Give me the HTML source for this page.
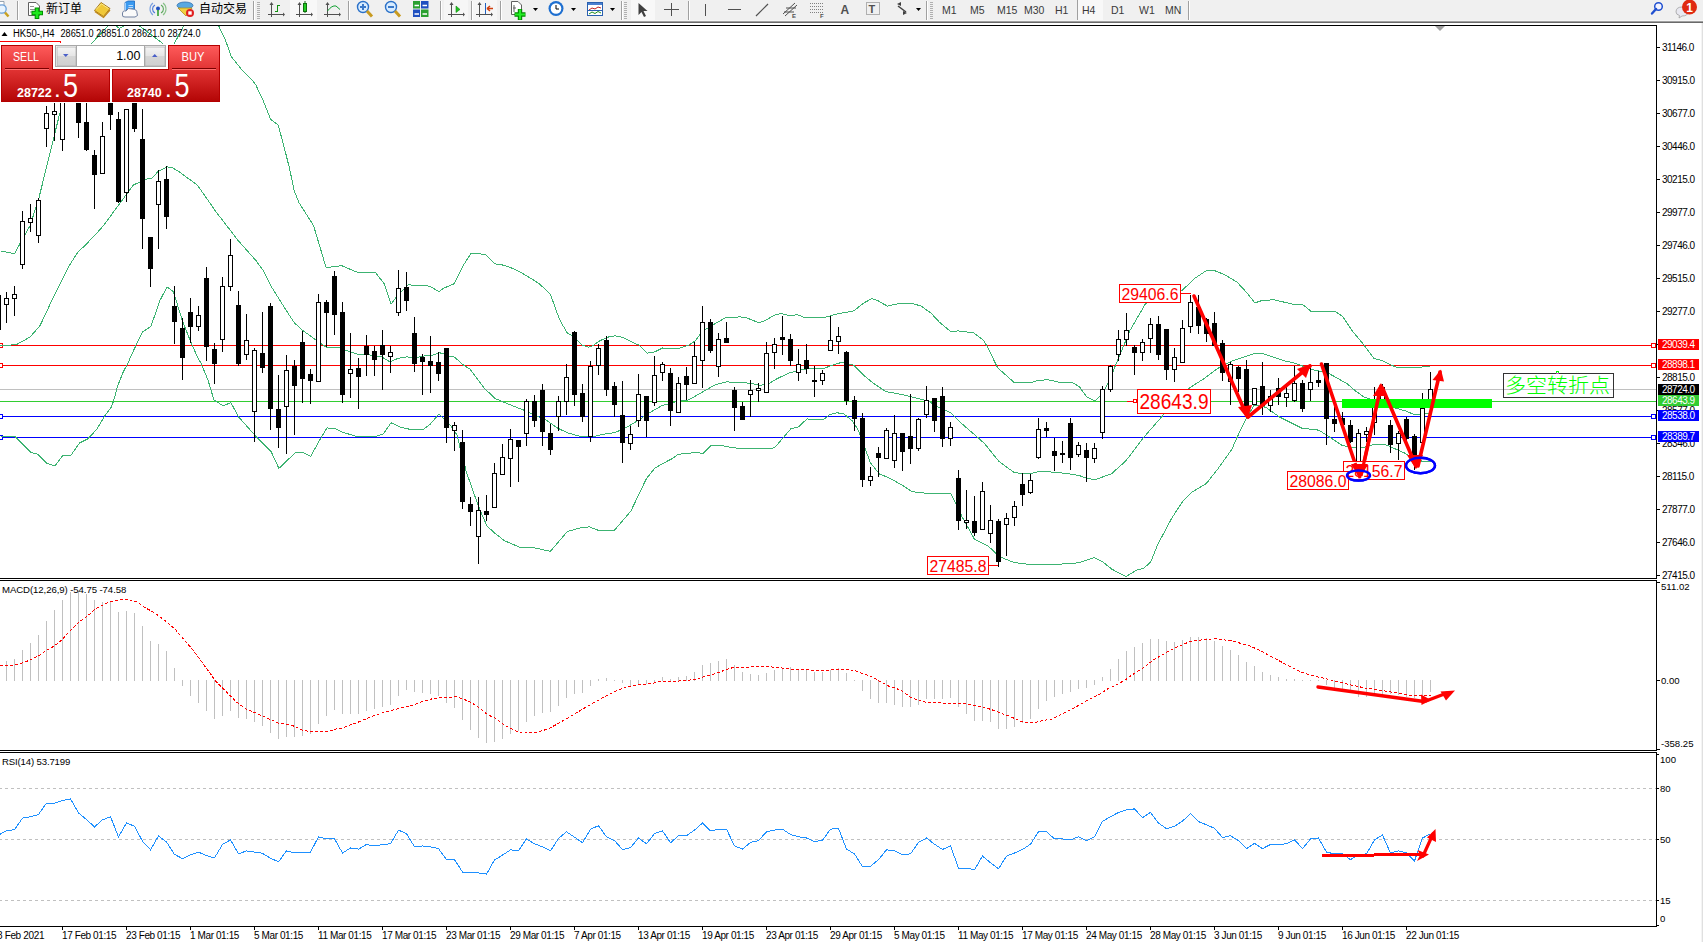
<!DOCTYPE html><html><head><meta charset="utf-8"><title>HK50 H4</title>
<style>html,body{margin:0;padding:0;background:#fff;overflow:hidden;width:1703px;height:942px}svg{display:block}text{font-family:"Liberation Sans", "Noto Sans CJK SC", sans-serif}</style></head><body>
<svg width="1703" height="942" viewBox="0 0 1703 942">
<rect x="0" y="0" width="1703" height="942" fill="#fff"/>
<defs><clipPath id="cm"><rect x="0" y="26" width="1656" height="552"/></clipPath><clipPath id="cmacd"><rect x="0" y="581" width="1656" height="169"/></clipPath><clipPath id="crsi"><rect x="0" y="753" width="1656" height="173"/></clipPath><linearGradient id="gpanel" x1="0" y1="45" x2="0" y2="102" gradientUnits="userSpaceOnUse"><stop offset="0" stop-color="#ff5c5c"/><stop offset="0.42" stop-color="#e23434"/><stop offset="1" stop-color="#b20404"/></linearGradient><linearGradient id="gsell" x1="0" y1="0" x2="0" y2="1"><stop offset="0" stop-color="#ff5a5a"/><stop offset="1" stop-color="#dc2424"/></linearGradient><linearGradient id="gprice" x1="0" y1="0" x2="0" y2="1"><stop offset="0" stop-color="#e23030"/><stop offset="1" stop-color="#b00202"/></linearGradient><linearGradient id="gbtn" x1="0" y1="0" x2="0" y2="1"><stop offset="0" stop-color="#f4f4f4"/><stop offset="0.45" stop-color="#e6e6e6"/><stop offset="0.5" stop-color="#d6d6d6"/><stop offset="1" stop-color="#cfcfcf"/></linearGradient></defs>
<g clip-path="url(#cm)">
<line x1="0" y1="345.5" x2="1656" y2="345.5" stroke="#ff0000" stroke-width="1" shape-rendering="crispEdges"/>
<line x1="0" y1="365.5" x2="1656" y2="365.5" stroke="#ff0000" stroke-width="1" shape-rendering="crispEdges"/>
<line x1="0" y1="389.5" x2="1656" y2="389.5" stroke="#c0c0c0" stroke-width="1" shape-rendering="crispEdges"/>
<line x1="0" y1="401.5" x2="1656" y2="401.5" stroke="#32cd32" stroke-width="1" shape-rendering="crispEdges"/>
<line x1="0" y1="416.5" x2="1656" y2="416.5" stroke="#0000ff" stroke-width="1" shape-rendering="crispEdges"/>
<line x1="0" y1="437.5" x2="1656" y2="437.5" stroke="#0000ff" stroke-width="1" shape-rendering="crispEdges"/>
<rect x="-1.5" y="343.5" width="4" height="4" fill="#fff" stroke="#ff0000" shape-rendering="crispEdges"/>
<rect x="1651.5" y="343.5" width="4" height="4" fill="#fff" stroke="#ff0000" shape-rendering="crispEdges"/>
<rect x="-1.5" y="363.5" width="4" height="4" fill="#fff" stroke="#ff0000" shape-rendering="crispEdges"/>
<rect x="1651.5" y="363.5" width="4" height="4" fill="#fff" stroke="#ff0000" shape-rendering="crispEdges"/>
<rect x="-1.5" y="414.5" width="4" height="4" fill="#fff" stroke="#0000ff" shape-rendering="crispEdges"/>
<rect x="1651.5" y="414.5" width="4" height="4" fill="#fff" stroke="#0000ff" shape-rendering="crispEdges"/>
<rect x="-1.5" y="435.5" width="4" height="4" fill="#fff" stroke="#0000ff" shape-rendering="crispEdges"/>
<rect x="1651.5" y="435.5" width="4" height="4" fill="#fff" stroke="#0000ff" shape-rendering="crispEdges"/>
<polyline points="0.5,250.9 14.6,253.7 21.0,241.7 30.1,225.5 38.6,199.3 59.8,113.2 75.5,75.5 91.6,43.4 107.4,26.6 112.5,20.5 116.8,26.6 119.4,28.4 122.7,26.6 130.5,20.5 140.3,26.6 162.6,43.4 168.5,50.5 174.4,43.4 183.2,26.6 190.5,18.5 210.5,18.5 219.0,26.5 225.6,40.5 231.2,56.5 242.5,70.6 252.8,80.9 255.7,84.7 263.2,100.7 270.7,119.5 278.2,125.1 283.8,145.8 289.5,168.3 294.2,190.9 298.9,202.5 313.5,225.5 326.2,267.9 330.4,267.1 341.7,265.7 358.6,272.8 375.6,272.8 384.0,283.4 391.1,303.9 398.2,294.7 408.0,284.8 420.5,285.7 426.9,285.7 431.1,287.1 438.9,291.6 443.1,288.5 454.4,283.6 464.3,263.8 470.6,253.9 480.5,253.9 486.1,254.9 494.6,263.8 503.8,265.2 510.9,267.7 519.3,271.6 527.8,276.5 539.1,283.6 550.4,294.1 557.4,313.9 560.3,321.0 567.3,333.0 573.0,335.8 582.2,345.3 588.5,347.1 592.7,345.7 599.8,340.7 609.7,336.5 615.3,335.8 622.4,337.2 632.3,342.2 639.3,345.3 647.1,353.2 654.9,351.8 662.4,348.0 668.7,349.0 678.6,348.3 688.5,345.4 695.6,340.5 701.2,332.7 706.9,328.5 713.9,324.3 725.2,317.9 739.3,316.9 745.0,317.2 759.1,322.9 764.7,320.7 776.0,314.4 781.7,313.7 790.2,315.8 797.2,314.7 805.7,317.9 824.0,317.5 838.2,313.7 853.7,310.9 863.6,303.1 872.0,298.6 877.5,300.5 887.3,306.1 898.6,303.6 914.1,304.0 921.2,306.1 931.1,313.2 939.6,322.4 950.9,331.8 957.9,330.9 973.4,332.7 983.3,340.0 987.6,347.1 997.5,367.6 1014.4,382.7 1031.3,382.7 1038.4,380.3 1048.3,379.8 1061.0,382.7 1072.3,382.7 1079.3,386.6 1086.4,396.5 1094.9,401.0 1101.8,394.5 1108.9,381.8 1114.5,367.8 1130.0,330.4 1145.6,303.6 1181.6,290.9 1195.0,278.1 1206.3,270.7 1214.7,270.7 1224.6,274.6 1237.3,282.4 1245.8,291.6 1255.0,302.9 1261.3,300.7 1274.0,299.7 1283.9,302.1 1292.3,304.0 1299.3,304.0 1303.7,305.3 1310.8,311.1 1316.1,311.9 1322.2,311.5 1334.6,311.1 1342.5,316.3 1352.2,330.9 1363.6,344.5 1374.2,358.6 1382.1,360.4 1392.7,365.7 1398.0,367.9 1410.3,367.9 1426.2,366.7 1430.5,366.5" fill="none" stroke="#3cb371" stroke-width="1" shape-rendering="crispEdges"/>
<polyline points="0.5,345.5 16.0,344.8 30.1,337.0 40.0,325.7 49.9,304.6 59.8,284.8 69.7,265.0 78.2,251.6 83.8,246.7 96.5,233.5 103.5,225.5 113.5,212.0 133.2,185.2 140.3,181.7 147.3,178.9 150.9,178.9 158.6,171.1 167.1,166.9 172.7,168.0 178.4,171.1 184.0,175.3 197.4,185.2 208.7,201.2 215.1,210.6 226.6,225.5 237.9,240.3 255.6,260.1 263.3,270.7 271.1,286.2 285.2,308.8 294.4,322.9 302.2,330.0 317.7,341.3 326.9,347.6 339.6,348.0 348.7,351.2 358.6,354.7 369.9,355.0 381.2,356.5 389.7,361.8 398.2,358.3 406.6,356.9 416.5,357.5 426.4,355.5 431.8,355.6 438.9,352.7 443.1,353.5 450.1,356.6 454.4,357.0 462.9,364.7 469.9,369.0 484.0,388.0 495.3,398.6 512.3,405.7 525.0,410.6 533.5,414.9 544.7,419.1 557.5,428.0 567.3,432.8 581.5,436.7 592.7,436.7 604.0,434.2 615.3,432.5 628.0,426.6 639.3,419.8 649.0,413.1 661.7,405.7 674.4,402.1 688.5,399.9 702.6,392.0 715.3,384.7 726.6,381.9 739.3,382.4 750.6,383.3 759.1,385.3 767.6,384.3 776.0,379.3 788.7,373.0 797.2,370.9 807.1,368.7 824.0,368.3 838.2,363.1 843.8,362.7 853.7,365.2 863.6,375.1 872.0,382.2 885.9,391.6 901.4,394.4 915.6,397.9 928.3,401.0 939.6,407.8 950.9,412.7 959.3,421.5 977.7,437.4 984.7,443.8 998.9,461.4 1014.4,472.7 1029.9,473.9 1038.4,471.6 1051.1,472.0 1066.6,473.4 1079.3,475.6 1086.4,478.1 1094.7,479.9 1111.7,473.6 1125.8,460.9 1144.1,436.9 1163.9,414.3 1189.3,388.0 1203.5,379.0 1217.6,368.5 1231.7,361.0 1240.2,358.2 1254.3,353.7 1262.7,353.7 1274.0,357.2 1285.3,361.0 1295.2,363.3 1306.5,367.5 1312.3,369.7 1320.5,371.4 1330.0,374.1 1339.4,379.4 1347.6,384.1 1355.9,391.2 1364.1,397.1 1371.2,399.4 1397.1,408.6 1406.6,411.2 1414.8,415.0 1419.5,414.7 1426.6,413.6 1430.5,413.5" fill="none" stroke="#3cb371" stroke-width="1" shape-rendering="crispEdges"/>
<polyline points="0.5,436.9 15.3,436.9 30.9,452.4 37.9,454.3 47.1,463.5 54.9,466.0 62.6,455.7 71.1,455.0 79.6,443.0 88.0,438.7 96.5,429.6 105.0,415.5 111.3,407.0 113.5,401.3 117.7,385.8 123.3,371.7 127.6,363.9 131.0,356.0 134.5,348.5 142.4,332.1 150.9,326.5 160.0,300.3 167.1,286.9 173.5,291.9 182.6,321.5 191.1,342.7 198.2,358.5 201.0,363.2 208.0,380.1 213.9,399.9 223.1,405.8 230.9,402.7 238.6,416.9 254.9,435.2 271.1,451.5 278.9,468.4 295.1,452.9 303.6,452.9 310.6,456.4 320.5,438.7 326.9,427.9 336.0,428.9 343.1,432.4 357.2,436.6 375.6,436.6 383.3,433.8 391.1,422.8 401.0,427.4 412.3,429.8 422.9,429.8 430.4,424.0 438.9,413.9 451.6,426.9 457.2,435.3 460.0,447.5 462.9,453.7 465.7,470.1 474.1,494.1 479.8,509.6 486.9,525.9 495.3,533.6 504.5,540.7 519.3,547.0 530.6,547.0 550.4,551.3 567.3,531.5 580.0,528.0 589.2,526.8 597.7,530.1 614.6,530.1 630.9,511.0 639.3,493.5 646.4,478.6 654.9,468.1 663.1,463.3 671.6,459.0 678.6,454.1 689.9,453.7 691.3,452.7 698.4,452.7 702.6,453.8 711.1,445.6 722.4,445.6 732.3,447.7 747.8,448.9 769.0,448.9 774.6,447.7 783.1,437.9 790.9,428.7 798.6,426.8 807.1,418.8 811.3,419.5 823.3,419.8 829.7,414.6 836.7,412.7 843.8,413.9 852.3,420.9 857.9,429.4 862.2,440.7 866.4,452.0 870.4,462.9 879.6,474.1 888.7,477.7 901.4,484.7 911.3,491.1 918.4,492.8 950.9,493.9 956.5,505.2 962.2,517.0 974.5,539.3 988.5,546.3 999.1,556.5 1013.2,562.2 1023.8,563.9 1041.4,564.8 1073.1,563.6 1080.2,562.2 1094.3,557.7 1103.1,562.2 1111.9,569.2 1126.0,576.6 1136.5,570.1 1143.6,568.3 1150.6,562.2 1157.7,544.5 1171.8,518.1 1182.3,502.0 1192.2,491.9 1206.3,483.5 1217.6,469.3 1231.7,449.6 1237.3,436.9 1245.8,419.2 1254.3,405.1 1265.6,407.2 1279.7,417.1 1286.4,420.5 1302.9,428.7 1314.7,429.3 1319.4,430.5 1327.6,435.8 1341.8,445.2 1351.2,447.6 1363.0,447.6 1374.8,444.1 1384.2,444.1 1392.5,447.6 1404.2,452.9 1410.1,455.9 1421.9,461.2 1427.8,461.8 1430.5,462.0" fill="none" stroke="#3cb371" stroke-width="1" shape-rendering="crispEdges"/>
<path d="M6.5 292V298M6.5 305V323M14.5 286V294M14.5 299V316M22.5 211V221M22.5 265V269M30.5 204V218M30.5 223V232M38.5 198V200M38.5 236V243M46.5 106V113M46.5 129V147M54.5 95V111M54.5 115V141M62.5 80V85M62.5 140V151M70.5 50V60M70.5 96V101M78.5 70V80M78.5 123V138M86.5 80V122M86.5 150V151M94.5 150V155M94.5 175V209M102.5 122V136M110.5 80V90M110.5 115V130M118.5 112V119M118.5 202V203M126.5 193V202M134.5 80V90M134.5 129V132M142.5 109V139M142.5 219V249M150.5 269V287M158.5 170V181M158.5 205V249M166.5 166V179M166.5 217V229M174.5 286V306M174.5 322V344M182.5 318V328M182.5 358V380M190.5 298V312M190.5 327V343M198.5 306V315M198.5 327V331M206.5 267V278M206.5 347V361M214.5 343V349M214.5 364V384M222.5 277V286M222.5 340V352M230.5 239V255M230.5 287V291M238.5 291V305M238.5 364V366M246.5 314V340M246.5 355V360M254.5 348V350M254.5 412V442M262.5 312V353M262.5 368V373M270.5 303V306M270.5 409V430M278.5 375V409M278.5 428V448M286.5 355V370M286.5 407V454M294.5 360V366M294.5 386V435M302.5 331V342M302.5 379V403M310.5 369V374M310.5 381V404M318.5 294V302M326.5 300V302M326.5 313V347M334.5 271V276M334.5 315V335M342.5 302V312M342.5 395V403M350.5 333V369M350.5 374V398M358.5 358V368M358.5 377V409M366.5 335V346M366.5 355V376M374.5 346V351M374.5 360V376M382.5 330V345M382.5 355V390M390.5 346V352M390.5 357V373M398.5 270V288M398.5 313V316M406.5 272V287M406.5 301V311M414.5 317V333M414.5 364V372M422.5 354V357M422.5 362V395M430.5 336V361M430.5 366V393M438.5 352V362M438.5 374V381M446.5 428V443M454.5 422V425M454.5 431V451M462.5 430V442M462.5 502V509M470.5 497V504M470.5 512V526M478.5 497V510M478.5 537V564M486.5 495V511M486.5 515V521M494.5 463V473M502.5 444V457M510.5 429V439M510.5 459V487M518.5 447V482M526.5 399V401M526.5 434V446M534.5 395V401M534.5 421V427M542.5 384V390M542.5 432V446M550.5 424V433M550.5 450V455M558.5 396V401M558.5 417V431M566.5 364V377M566.5 402V415M574.5 331V332M574.5 395V406M582.5 384V393M582.5 417V422M590.5 361V366M590.5 437V442M598.5 344V348M598.5 366V375M606.5 336V340M606.5 390V396M614.5 382V386M614.5 405V417M622.5 381V415M622.5 443V463M630.5 426V434M630.5 444V450M638.5 374V394M638.5 421V427M646.5 421V437M654.5 356V375M654.5 403V406M662.5 362V364M662.5 373V381M670.5 368V373M670.5 411V426M678.5 377V383M686.5 367V376M686.5 385V400M694.5 342V356M702.5 306V322M702.5 361V388M710.5 319V322M710.5 351V353M718.5 333V339M718.5 367V377M726.5 322V338M734.5 387V390M734.5 408V431M742.5 402V406M750.5 380V390M750.5 395V417M758.5 383V388M758.5 391V402M766.5 342V353M774.5 338V344M774.5 353V369M782.5 316V337M782.5 340V355M790.5 334V339M790.5 361V366M798.5 349V364M798.5 373V381M806.5 344V360M806.5 369V374M814.5 366V380M814.5 382V397M822.5 370V373M822.5 381V385M830.5 316V340M838.5 327V336M838.5 342V354M846.5 351V352M846.5 401V405M854.5 396V400M854.5 419V431M862.5 413V418M862.5 480V487M870.5 467V476M870.5 481V486M878.5 447V453M878.5 458V477M886.5 428V430M894.5 415V433M894.5 461V468M902.5 452V471M910.5 394V436M910.5 449V464M918.5 418V419M918.5 449V451M926.5 386V400M926.5 415V418M934.5 421V432M942.5 387V396M942.5 439V447M950.5 422V427M950.5 439V446M958.5 470V478M958.5 521V530M966.5 490V520M966.5 523V529M974.5 496V521M974.5 533V536M982.5 482V491M990.5 505V520M990.5 534V543M998.5 519V521M998.5 562V567M1006.5 513V518M1006.5 525V556M1014.5 501V506M1014.5 518V526M1022.5 473V484M1022.5 495V506M1030.5 474V480M1030.5 493V494M1038.5 418V429M1038.5 458V459M1046.5 422V428M1046.5 431V437M1054.5 438V451M1054.5 456V471M1062.5 441V453M1062.5 455V463M1070.5 418V423M1070.5 458V470M1078.5 442V445M1078.5 455V457M1086.5 443V450M1086.5 458V482M1094.5 443V448M1094.5 459V463M1102.5 386V389M1102.5 433V439M1110.5 365V366M1110.5 390V392M1118.5 330V339M1118.5 355V361M1126.5 313V330M1126.5 340V346M1134.5 345V347M1134.5 353V375M1142.5 339V342M1142.5 353V361M1150.5 318V324M1150.5 339V353M1158.5 316V324M1158.5 355V360M1166.5 370V380M1174.5 348V357M1174.5 370V382M1182.5 320V328M1190.5 295V302M1190.5 327V333M1198.5 295V307M1198.5 326V334M1206.5 318V319M1206.5 334V342M1214.5 312V323M1222.5 340V343M1222.5 373V381M1230.5 362V364M1230.5 382V405M1238.5 366V367M1238.5 379V392M1246.5 360V369M1246.5 406V411M1262.5 362V386M1262.5 406V415M1270.5 390V396M1270.5 406V412M1278.5 378V388M1278.5 397V405M1286.5 385V393M1286.5 398V407M1294.5 366V383M1294.5 401V402M1302.5 380V383M1302.5 409V412M1310.5 368V382M1310.5 390V401M1318.5 371V380M1318.5 383V387M1326.5 419V445M1334.5 407V419M1334.5 424V432M1342.5 412V418M1342.5 425V429M1350.5 420V425M1350.5 442V443M1358.5 429V433M1358.5 469V478M1366.5 427V431M1366.5 435V442M1374.5 387V406M1374.5 423V435M1382.5 384V387M1382.5 401V406M1390.5 420V425M1390.5 445V453M1398.5 431V433M1398.5 444V460M1406.5 417V419M1406.5 439V446M1414.5 434V436M1414.5 460V470M1422.5 393V408M1422.5 443V449M1430.5 372V389M1430.5 401V405" stroke="#000" stroke-width="1" shape-rendering="crispEdges"/>
<rect x="-3.5" y="295.5" width="4" height="34" fill="#fff" stroke="#000" stroke-width="1" shape-rendering="crispEdges"/>
<rect x="4.5" y="298.5" width="4" height="6" fill="#fff" stroke="#000" stroke-width="1" shape-rendering="crispEdges"/>
<rect x="12.5" y="294.5" width="4" height="4" fill="#fff" stroke="#000" stroke-width="1" shape-rendering="crispEdges"/>
<rect x="20.5" y="221.5" width="4" height="43" fill="#fff" stroke="#000" stroke-width="1" shape-rendering="crispEdges"/>
<rect x="28.5" y="218.5" width="4" height="4" fill="#fff" stroke="#000" stroke-width="1" shape-rendering="crispEdges"/>
<rect x="36.5" y="200.5" width="4" height="35" fill="#fff" stroke="#000" stroke-width="1" shape-rendering="crispEdges"/>
<rect x="44.5" y="113.5" width="4" height="15" fill="#fff" stroke="#000" stroke-width="1" shape-rendering="crispEdges"/>
<rect x="52.5" y="111.5" width="4" height="3" fill="#fff" stroke="#000" stroke-width="1" shape-rendering="crispEdges"/>
<rect x="60.5" y="85.5" width="4" height="54" fill="#fff" stroke="#000" stroke-width="1" shape-rendering="crispEdges"/>
<rect x="68.5" y="60.5" width="4" height="35" fill="#fff" stroke="#000" stroke-width="1" shape-rendering="crispEdges"/>
<rect x="76" y="80" width="5" height="43" fill="#000" shape-rendering="crispEdges"/>
<rect x="84" y="122" width="5" height="28" fill="#000" shape-rendering="crispEdges"/>
<rect x="92" y="155" width="5" height="20" fill="#000" shape-rendering="crispEdges"/>
<rect x="100.5" y="136.5" width="4" height="37" fill="#fff" stroke="#000" stroke-width="1" shape-rendering="crispEdges"/>
<rect x="108" y="90" width="5" height="25" fill="#000" shape-rendering="crispEdges"/>
<rect x="116" y="119" width="5" height="83" fill="#000" shape-rendering="crispEdges"/>
<rect x="124.5" y="109.5" width="4" height="83" fill="#fff" stroke="#000" stroke-width="1" shape-rendering="crispEdges"/>
<rect x="132" y="90" width="5" height="39" fill="#000" shape-rendering="crispEdges"/>
<rect x="140" y="139" width="5" height="80" fill="#000" shape-rendering="crispEdges"/>
<rect x="148" y="237" width="5" height="32" fill="#000" shape-rendering="crispEdges"/>
<rect x="156.5" y="181.5" width="4" height="23" fill="#fff" stroke="#000" stroke-width="1" shape-rendering="crispEdges"/>
<rect x="164" y="179" width="5" height="38" fill="#000" shape-rendering="crispEdges"/>
<rect x="172" y="306" width="5" height="16" fill="#000" shape-rendering="crispEdges"/>
<rect x="180" y="328" width="5" height="30" fill="#000" shape-rendering="crispEdges"/>
<rect x="188" y="312" width="5" height="15" fill="#000" shape-rendering="crispEdges"/>
<rect x="196.5" y="315.5" width="4" height="11" fill="#fff" stroke="#000" stroke-width="1" shape-rendering="crispEdges"/>
<rect x="204" y="278" width="5" height="69" fill="#000" shape-rendering="crispEdges"/>
<rect x="212" y="349" width="5" height="15" fill="#000" shape-rendering="crispEdges"/>
<rect x="220.5" y="286.5" width="4" height="53" fill="#fff" stroke="#000" stroke-width="1" shape-rendering="crispEdges"/>
<rect x="228.5" y="255.5" width="4" height="31" fill="#fff" stroke="#000" stroke-width="1" shape-rendering="crispEdges"/>
<rect x="236" y="305" width="5" height="59" fill="#000" shape-rendering="crispEdges"/>
<rect x="244.5" y="340.5" width="4" height="14" fill="#fff" stroke="#000" stroke-width="1" shape-rendering="crispEdges"/>
<rect x="252.5" y="350.5" width="4" height="61" fill="#fff" stroke="#000" stroke-width="1" shape-rendering="crispEdges"/>
<rect x="260" y="353" width="5" height="15" fill="#000" shape-rendering="crispEdges"/>
<rect x="268" y="306" width="5" height="103" fill="#000" shape-rendering="crispEdges"/>
<rect x="276" y="409" width="5" height="19" fill="#000" shape-rendering="crispEdges"/>
<rect x="284.5" y="370.5" width="4" height="36" fill="#fff" stroke="#000" stroke-width="1" shape-rendering="crispEdges"/>
<rect x="292" y="366" width="5" height="20" fill="#000" shape-rendering="crispEdges"/>
<rect x="300" y="342" width="5" height="37" fill="#000" shape-rendering="crispEdges"/>
<rect x="308" y="374" width="5" height="7" fill="#000" shape-rendering="crispEdges"/>
<rect x="316.5" y="302.5" width="4" height="79" fill="#fff" stroke="#000" stroke-width="1" shape-rendering="crispEdges"/>
<rect x="324" y="302" width="5" height="11" fill="#000" shape-rendering="crispEdges"/>
<rect x="332" y="276" width="5" height="39" fill="#000" shape-rendering="crispEdges"/>
<rect x="340" y="312" width="5" height="83" fill="#000" shape-rendering="crispEdges"/>
<rect x="348.5" y="369.5" width="4" height="4" fill="#fff" stroke="#000" stroke-width="1" shape-rendering="crispEdges"/>
<rect x="356" y="368" width="5" height="9" fill="#000" shape-rendering="crispEdges"/>
<rect x="364" y="346" width="5" height="9" fill="#000" shape-rendering="crispEdges"/>
<rect x="372" y="351" width="5" height="9" fill="#000" shape-rendering="crispEdges"/>
<rect x="380" y="345" width="5" height="10" fill="#000" shape-rendering="crispEdges"/>
<rect x="388.5" y="352.5" width="4" height="4" fill="#fff" stroke="#000" stroke-width="1" shape-rendering="crispEdges"/>
<rect x="396.5" y="288.5" width="4" height="24" fill="#fff" stroke="#000" stroke-width="1" shape-rendering="crispEdges"/>
<rect x="404" y="287" width="5" height="14" fill="#000" shape-rendering="crispEdges"/>
<rect x="412" y="333" width="5" height="31" fill="#000" shape-rendering="crispEdges"/>
<rect x="420" y="357" width="5" height="5" fill="#000" shape-rendering="crispEdges"/>
<rect x="428" y="361" width="5" height="5" fill="#000" shape-rendering="crispEdges"/>
<rect x="436" y="362" width="5" height="12" fill="#000" shape-rendering="crispEdges"/>
<rect x="444" y="348" width="5" height="80" fill="#000" shape-rendering="crispEdges"/>
<rect x="452.5" y="425.5" width="4" height="5" fill="#fff" stroke="#000" stroke-width="1" shape-rendering="crispEdges"/>
<rect x="460" y="442" width="5" height="60" fill="#000" shape-rendering="crispEdges"/>
<rect x="468" y="504" width="5" height="8" fill="#000" shape-rendering="crispEdges"/>
<rect x="476.5" y="510.5" width="4" height="26" fill="#fff" stroke="#000" stroke-width="1" shape-rendering="crispEdges"/>
<rect x="484" y="511" width="5" height="4" fill="#000" shape-rendering="crispEdges"/>
<rect x="492.5" y="473.5" width="4" height="34" fill="#fff" stroke="#000" stroke-width="1" shape-rendering="crispEdges"/>
<rect x="500.5" y="457.5" width="4" height="17" fill="#fff" stroke="#000" stroke-width="1" shape-rendering="crispEdges"/>
<rect x="508.5" y="439.5" width="4" height="19" fill="#fff" stroke="#000" stroke-width="1" shape-rendering="crispEdges"/>
<rect x="516" y="440" width="5" height="7" fill="#000" shape-rendering="crispEdges"/>
<rect x="524.5" y="401.5" width="4" height="32" fill="#fff" stroke="#000" stroke-width="1" shape-rendering="crispEdges"/>
<rect x="532" y="401" width="5" height="20" fill="#000" shape-rendering="crispEdges"/>
<rect x="540" y="390" width="5" height="42" fill="#000" shape-rendering="crispEdges"/>
<rect x="548" y="433" width="5" height="17" fill="#000" shape-rendering="crispEdges"/>
<rect x="556.5" y="401.5" width="4" height="15" fill="#fff" stroke="#000" stroke-width="1" shape-rendering="crispEdges"/>
<rect x="564.5" y="377.5" width="4" height="24" fill="#fff" stroke="#000" stroke-width="1" shape-rendering="crispEdges"/>
<rect x="572" y="332" width="5" height="63" fill="#000" shape-rendering="crispEdges"/>
<rect x="580" y="393" width="5" height="24" fill="#000" shape-rendering="crispEdges"/>
<rect x="588.5" y="366.5" width="4" height="70" fill="#fff" stroke="#000" stroke-width="1" shape-rendering="crispEdges"/>
<rect x="596.5" y="348.5" width="4" height="17" fill="#fff" stroke="#000" stroke-width="1" shape-rendering="crispEdges"/>
<rect x="604" y="340" width="5" height="50" fill="#000" shape-rendering="crispEdges"/>
<rect x="612" y="386" width="5" height="19" fill="#000" shape-rendering="crispEdges"/>
<rect x="620" y="415" width="5" height="28" fill="#000" shape-rendering="crispEdges"/>
<rect x="628.5" y="434.5" width="4" height="9" fill="#fff" stroke="#000" stroke-width="1" shape-rendering="crispEdges"/>
<rect x="636.5" y="394.5" width="4" height="26" fill="#fff" stroke="#000" stroke-width="1" shape-rendering="crispEdges"/>
<rect x="644" y="396" width="5" height="25" fill="#000" shape-rendering="crispEdges"/>
<rect x="652.5" y="375.5" width="4" height="27" fill="#fff" stroke="#000" stroke-width="1" shape-rendering="crispEdges"/>
<rect x="660.5" y="364.5" width="4" height="8" fill="#fff" stroke="#000" stroke-width="1" shape-rendering="crispEdges"/>
<rect x="668" y="373" width="5" height="38" fill="#000" shape-rendering="crispEdges"/>
<rect x="676.5" y="383.5" width="4" height="29" fill="#fff" stroke="#000" stroke-width="1" shape-rendering="crispEdges"/>
<rect x="684" y="376" width="5" height="9" fill="#000" shape-rendering="crispEdges"/>
<rect x="692.5" y="356.5" width="4" height="27" fill="#fff" stroke="#000" stroke-width="1" shape-rendering="crispEdges"/>
<rect x="700.5" y="322.5" width="4" height="38" fill="#fff" stroke="#000" stroke-width="1" shape-rendering="crispEdges"/>
<rect x="708" y="322" width="5" height="29" fill="#000" shape-rendering="crispEdges"/>
<rect x="716.5" y="339.5" width="4" height="27" fill="#fff" stroke="#000" stroke-width="1" shape-rendering="crispEdges"/>
<rect x="724" y="338" width="5" height="5" fill="#000" shape-rendering="crispEdges"/>
<rect x="732" y="390" width="5" height="18" fill="#000" shape-rendering="crispEdges"/>
<rect x="740" y="406" width="5" height="14" fill="#000" shape-rendering="crispEdges"/>
<rect x="748.5" y="390.5" width="4" height="4" fill="#fff" stroke="#000" stroke-width="1" shape-rendering="crispEdges"/>
<rect x="756.5" y="388.5" width="4" height="2" fill="#fff" stroke="#000" stroke-width="1" shape-rendering="crispEdges"/>
<rect x="764.5" y="353.5" width="4" height="39" fill="#fff" stroke="#000" stroke-width="1" shape-rendering="crispEdges"/>
<rect x="772.5" y="344.5" width="4" height="8" fill="#fff" stroke="#000" stroke-width="1" shape-rendering="crispEdges"/>
<rect x="780" y="337" width="5" height="3" fill="#000" shape-rendering="crispEdges"/>
<rect x="788" y="339" width="5" height="22" fill="#000" shape-rendering="crispEdges"/>
<rect x="796.5" y="364.5" width="4" height="8" fill="#fff" stroke="#000" stroke-width="1" shape-rendering="crispEdges"/>
<rect x="804" y="360" width="5" height="9" fill="#000" shape-rendering="crispEdges"/>
<rect x="812.5" y="380.5" width="4" height="1" fill="#fff" stroke="#000" stroke-width="1" shape-rendering="crispEdges"/>
<rect x="820.5" y="373.5" width="4" height="7" fill="#fff" stroke="#000" stroke-width="1" shape-rendering="crispEdges"/>
<rect x="828.5" y="340.5" width="4" height="10" fill="#fff" stroke="#000" stroke-width="1" shape-rendering="crispEdges"/>
<rect x="836.5" y="336.5" width="4" height="5" fill="#fff" stroke="#000" stroke-width="1" shape-rendering="crispEdges"/>
<rect x="844" y="352" width="5" height="49" fill="#000" shape-rendering="crispEdges"/>
<rect x="852" y="400" width="5" height="19" fill="#000" shape-rendering="crispEdges"/>
<rect x="860" y="418" width="5" height="62" fill="#000" shape-rendering="crispEdges"/>
<rect x="868.5" y="476.5" width="4" height="4" fill="#fff" stroke="#000" stroke-width="1" shape-rendering="crispEdges"/>
<rect x="876" y="453" width="5" height="5" fill="#000" shape-rendering="crispEdges"/>
<rect x="884.5" y="430.5" width="4" height="28" fill="#fff" stroke="#000" stroke-width="1" shape-rendering="crispEdges"/>
<rect x="892.5" y="433.5" width="4" height="27" fill="#fff" stroke="#000" stroke-width="1" shape-rendering="crispEdges"/>
<rect x="900" y="433" width="5" height="19" fill="#000" shape-rendering="crispEdges"/>
<rect x="908" y="436" width="5" height="13" fill="#000" shape-rendering="crispEdges"/>
<rect x="916.5" y="419.5" width="4" height="29" fill="#fff" stroke="#000" stroke-width="1" shape-rendering="crispEdges"/>
<rect x="924.5" y="400.5" width="4" height="14" fill="#fff" stroke="#000" stroke-width="1" shape-rendering="crispEdges"/>
<rect x="932" y="398" width="5" height="23" fill="#000" shape-rendering="crispEdges"/>
<rect x="940" y="396" width="5" height="43" fill="#000" shape-rendering="crispEdges"/>
<rect x="948.5" y="427.5" width="4" height="11" fill="#fff" stroke="#000" stroke-width="1" shape-rendering="crispEdges"/>
<rect x="956" y="478" width="5" height="43" fill="#000" shape-rendering="crispEdges"/>
<rect x="964.5" y="520.5" width="4" height="2" fill="#fff" stroke="#000" stroke-width="1" shape-rendering="crispEdges"/>
<rect x="972" y="521" width="5" height="12" fill="#000" shape-rendering="crispEdges"/>
<rect x="980.5" y="491.5" width="4" height="38" fill="#fff" stroke="#000" stroke-width="1" shape-rendering="crispEdges"/>
<rect x="988.5" y="520.5" width="4" height="13" fill="#fff" stroke="#000" stroke-width="1" shape-rendering="crispEdges"/>
<rect x="996" y="521" width="5" height="41" fill="#000" shape-rendering="crispEdges"/>
<rect x="1004.5" y="518.5" width="4" height="6" fill="#fff" stroke="#000" stroke-width="1" shape-rendering="crispEdges"/>
<rect x="1012.5" y="506.5" width="4" height="11" fill="#fff" stroke="#000" stroke-width="1" shape-rendering="crispEdges"/>
<rect x="1020" y="484" width="5" height="11" fill="#000" shape-rendering="crispEdges"/>
<rect x="1028.5" y="480.5" width="4" height="12" fill="#fff" stroke="#000" stroke-width="1" shape-rendering="crispEdges"/>
<rect x="1036.5" y="429.5" width="4" height="28" fill="#fff" stroke="#000" stroke-width="1" shape-rendering="crispEdges"/>
<rect x="1044" y="428" width="5" height="3" fill="#000" shape-rendering="crispEdges"/>
<rect x="1052" y="451" width="5" height="5" fill="#000" shape-rendering="crispEdges"/>
<rect x="1060" y="453" width="5" height="2" fill="#000" shape-rendering="crispEdges"/>
<rect x="1068" y="423" width="5" height="35" fill="#000" shape-rendering="crispEdges"/>
<rect x="1076.5" y="445.5" width="4" height="9" fill="#fff" stroke="#000" stroke-width="1" shape-rendering="crispEdges"/>
<rect x="1084" y="450" width="5" height="8" fill="#000" shape-rendering="crispEdges"/>
<rect x="1092.5" y="448.5" width="4" height="10" fill="#fff" stroke="#000" stroke-width="1" shape-rendering="crispEdges"/>
<rect x="1100.5" y="389.5" width="4" height="43" fill="#fff" stroke="#000" stroke-width="1" shape-rendering="crispEdges"/>
<rect x="1108.5" y="366.5" width="4" height="23" fill="#fff" stroke="#000" stroke-width="1" shape-rendering="crispEdges"/>
<rect x="1116.5" y="339.5" width="4" height="15" fill="#fff" stroke="#000" stroke-width="1" shape-rendering="crispEdges"/>
<rect x="1124.5" y="330.5" width="4" height="9" fill="#fff" stroke="#000" stroke-width="1" shape-rendering="crispEdges"/>
<rect x="1132" y="347" width="5" height="6" fill="#000" shape-rendering="crispEdges"/>
<rect x="1140.5" y="342.5" width="4" height="10" fill="#fff" stroke="#000" stroke-width="1" shape-rendering="crispEdges"/>
<rect x="1148.5" y="324.5" width="4" height="14" fill="#fff" stroke="#000" stroke-width="1" shape-rendering="crispEdges"/>
<rect x="1156" y="324" width="5" height="31" fill="#000" shape-rendering="crispEdges"/>
<rect x="1164" y="329" width="5" height="41" fill="#000" shape-rendering="crispEdges"/>
<rect x="1172.5" y="357.5" width="4" height="12" fill="#fff" stroke="#000" stroke-width="1" shape-rendering="crispEdges"/>
<rect x="1180.5" y="328.5" width="4" height="34" fill="#fff" stroke="#000" stroke-width="1" shape-rendering="crispEdges"/>
<rect x="1188.5" y="302.5" width="4" height="24" fill="#fff" stroke="#000" stroke-width="1" shape-rendering="crispEdges"/>
<rect x="1196" y="307" width="5" height="19" fill="#000" shape-rendering="crispEdges"/>
<rect x="1204" y="319" width="5" height="15" fill="#000" shape-rendering="crispEdges"/>
<rect x="1212" y="323" width="5" height="23" fill="#000" shape-rendering="crispEdges"/>
<rect x="1220" y="343" width="5" height="30" fill="#000" shape-rendering="crispEdges"/>
<rect x="1228.5" y="364.5" width="4" height="17" fill="#fff" stroke="#000" stroke-width="1" shape-rendering="crispEdges"/>
<rect x="1236" y="367" width="5" height="12" fill="#000" shape-rendering="crispEdges"/>
<rect x="1244" y="369" width="5" height="37" fill="#000" shape-rendering="crispEdges"/>
<rect x="1252.5" y="388.5" width="4" height="16" fill="#fff" stroke="#000" stroke-width="1" shape-rendering="crispEdges"/>
<rect x="1260" y="386" width="5" height="20" fill="#000" shape-rendering="crispEdges"/>
<rect x="1268.5" y="396.5" width="4" height="9" fill="#fff" stroke="#000" stroke-width="1" shape-rendering="crispEdges"/>
<rect x="1276" y="388" width="5" height="9" fill="#000" shape-rendering="crispEdges"/>
<rect x="1284.5" y="393.5" width="4" height="4" fill="#fff" stroke="#000" stroke-width="1" shape-rendering="crispEdges"/>
<rect x="1292.5" y="383.5" width="4" height="17" fill="#fff" stroke="#000" stroke-width="1" shape-rendering="crispEdges"/>
<rect x="1300" y="383" width="5" height="26" fill="#000" shape-rendering="crispEdges"/>
<rect x="1308.5" y="382.5" width="4" height="7" fill="#fff" stroke="#000" stroke-width="1" shape-rendering="crispEdges"/>
<rect x="1316" y="380" width="5" height="3" fill="#000" shape-rendering="crispEdges"/>
<rect x="1324" y="363" width="5" height="56" fill="#000" shape-rendering="crispEdges"/>
<rect x="1332" y="419" width="5" height="5" fill="#000" shape-rendering="crispEdges"/>
<rect x="1340" y="418" width="5" height="7" fill="#000" shape-rendering="crispEdges"/>
<rect x="1348" y="425" width="5" height="17" fill="#000" shape-rendering="crispEdges"/>
<rect x="1356.5" y="433.5" width="4" height="35" fill="#fff" stroke="#000" stroke-width="1" shape-rendering="crispEdges"/>
<rect x="1364.5" y="431.5" width="4" height="3" fill="#fff" stroke="#000" stroke-width="1" shape-rendering="crispEdges"/>
<rect x="1372.5" y="406.5" width="4" height="16" fill="#fff" stroke="#000" stroke-width="1" shape-rendering="crispEdges"/>
<rect x="1380.5" y="387.5" width="4" height="13" fill="#fff" stroke="#000" stroke-width="1" shape-rendering="crispEdges"/>
<rect x="1388" y="425" width="5" height="20" fill="#000" shape-rendering="crispEdges"/>
<rect x="1396.5" y="433.5" width="4" height="10" fill="#fff" stroke="#000" stroke-width="1" shape-rendering="crispEdges"/>
<rect x="1404" y="419" width="5" height="20" fill="#000" shape-rendering="crispEdges"/>
<rect x="1412" y="436" width="5" height="24" fill="#000" shape-rendering="crispEdges"/>
<rect x="1420.5" y="408.5" width="4" height="34" fill="#fff" stroke="#000" stroke-width="1" shape-rendering="crispEdges"/>
<rect x="1428.5" y="389.5" width="4" height="11" fill="#fff" stroke="#000" stroke-width="1" shape-rendering="crispEdges"/>
<rect x="1342" y="399" width="150" height="9" fill="#00ff00" shape-rendering="crispEdges"/>
<g stroke="#ff0000" stroke-width="3.6" fill="none" stroke-linecap="round" stroke-linejoin="round">
<path d="M1194 296 L1247 416"/>
<path d="M1248 417 L1310 366"/>
<path d="M1321.5 364 L1359 475"/>
<path d="M1361 476 L1381 386"/>
<path d="M1382.5 388 L1416 466"/>
<path d="M1418 466 L1440 372"/>
</g>
<g fill="#ff0000">
<path d="M1247.5 419 L1238 407 L1252 405 Z"/>
<path d="M1311 364 L1297 369 L1306 378 Z"/>
<path d="M1360 478 L1353 464 L1366 465 Z"/>
<path d="M1381 383 L1373 396 L1386 396 Z"/>
<path d="M1416 469 L1408 456 L1421 455 Z"/>
<path d="M1441 369.5 L1432.5 380 L1444 381.5 Z"/>
</g>
<ellipse cx="1358.5" cy="475.5" rx="11.5" ry="5" fill="none" stroke="#0000ff" stroke-width="2.4"/>
<ellipse cx="1420.5" cy="465.5" rx="14.5" ry="7.8" fill="none" stroke="#0000ff" stroke-width="2.4"/>
<rect x="1343.5" y="461.5" width="61" height="18" fill="#fff" stroke="#ff0000" stroke-width="1" shape-rendering="crispEdges"/>
<text x="1345.5" y="477.0" font-size="17.0" fill="#ff0000" textLength="57.0" lengthAdjust="spacingAndGlyphs">28156.7</text>
<rect x="1287.5" y="471.5" width="61" height="18" fill="#fff" stroke="#ff0000" stroke-width="1" shape-rendering="crispEdges"/>
<text x="1289.5" y="487.0" font-size="17.0" fill="#ff0000" textLength="57.0" lengthAdjust="spacingAndGlyphs">28086.0</text>
<path d="M1361 476 L1372 426" stroke="#ff0000" stroke-width="3.2" fill="none"/>
<path d="M1355 463 L1360 478" stroke="#ff0000" stroke-width="3.2" fill="none"/>
<path d="M1360 479 L1351 464 L1368 464 Z" fill="#ff0000"/>
<ellipse cx="1358.5" cy="475.5" rx="11.5" ry="5" fill="none" stroke="#0000ff" stroke-width="2.4"/>
<path d="M1416 469 L1407 455 L1423 455 Z" fill="#ff0000"/>
<ellipse cx="1420.5" cy="465.5" rx="14.5" ry="7.8" fill="none" stroke="#0000ff" stroke-width="2.4"/>
<rect x="1119.5" y="284.5" width="61" height="18" fill="#fff" stroke="#ff0000" stroke-width="1" shape-rendering="crispEdges"/>
<text x="1121.5" y="300.0" font-size="17.0" fill="#ff0000" textLength="57.0" lengthAdjust="spacingAndGlyphs">29406.6</text>
<line x1="1180" y1="293.5" x2="1191" y2="293.5" stroke="#ff0000" shape-rendering="crispEdges"/>
<rect x="1137.5" y="389.5" width="73" height="24" fill="#fff" stroke="#ff0000" stroke-width="1" shape-rendering="crispEdges"/>
<text x="1139.5" y="409.0" font-size="21.5" fill="#ff0000" textLength="69.0" lengthAdjust="spacingAndGlyphs">28643.9</text>
<line x1="1127" y1="401.5" x2="1137" y2="401.5" stroke="#ff0000" shape-rendering="crispEdges"/>
<rect x="1133.5" y="399.5" width="3" height="3" fill="#fff" stroke="#ff0000" shape-rendering="crispEdges"/>
<rect x="927.5" y="556.5" width="61" height="18" fill="#fff" stroke="#ff0000" stroke-width="1" shape-rendering="crispEdges"/>
<text x="929.5" y="572.0" font-size="17.0" fill="#ff0000" textLength="57.0" lengthAdjust="spacingAndGlyphs">27485.8</text>
<line x1="988" y1="565.5" x2="998" y2="565.5" stroke="#ff0000" shape-rendering="crispEdges"/>
<rect x="1503.5" y="373.5" width="110" height="24" fill="none" stroke="#333" stroke-width="1" shape-rendering="crispEdges"/>
<text x="1505" y="393" font-size="20" fill="#00ff00" textLength="105" lengthAdjust="spacingAndGlyphs" font-weight="300" font-family="&quot;Noto Sans CJK SC&quot;, sans-serif">多空转折点</text>
<rect x="1556" y="371" width="3" height="2" fill="#00ff00"/><rect x="1557" y="372" width="1" height="1" fill="#fff"/><rect x="1556" y="373" width="3" height="1" fill="#d040d0"/>
<path d="M1435 26 L1445 26 L1440 31 Z" fill="#a0a0a0"/>
</g>
<path d="M1.5 36 L4.5 32 L7.5 36 Z" fill="#000"/>
<text x="13" y="37" font-size="10" fill="#000" textLength="41.5" lengthAdjust="spacingAndGlyphs">HK50-,H4</text>
<text x="60.5" y="37" font-size="10" fill="#000" textLength="140" lengthAdjust="spacingAndGlyphs">28651.0 28851.0 28621.0 28724.0</text>
<line x1="0" y1="41.5" x2="60" y2="41.5" stroke="#ff0000" shape-rendering="crispEdges"/>
<line x1="60.5" y1="41" x2="60.5" y2="43" stroke="#ff0000" shape-rendering="crispEdges"/>
<rect x="0" y="44" width="221" height="59" fill="#fff"/><path d="M1.5 45.5 H52.5 V69.5 H109.5 V101.5 H1.5 Z" fill="url(#gpanel)" stroke="#b40000" shape-rendering="crispEdges"/><path d="M219.5 45.5 H168.5 V69.5 H112.5 V101.5 H219.5 Z" fill="url(#gpanel)" stroke="#b40000" shape-rendering="crispEdges"/><line x1="5" y1="68.5" x2="49" y2="68.5" stroke="#7a0000" shape-rendering="crispEdges"/><line x1="5" y1="69.5" x2="49" y2="69.5" stroke="#ff7070" shape-rendering="crispEdges"/><line x1="172" y1="68.5" x2="216" y2="68.5" stroke="#7a0000" shape-rendering="crispEdges"/><line x1="172" y1="69.5" x2="216" y2="69.5" stroke="#ff7070" shape-rendering="crispEdges"/><rect x="55.5" y="45.5" width="110" height="21" fill="#fff" stroke="#a8a8a8" shape-rendering="crispEdges"/><rect x="57" y="47" width="19" height="19" fill="url(#gbtn)" stroke="#b0b0b0" stroke-width="0.8"/><rect x="145" y="47" width="20" height="19" fill="url(#gbtn)" stroke="#b0b0b0" stroke-width="0.8"/><line x1="76.5" y1="46" x2="76.5" y2="66" stroke="#a8a8a8" shape-rendering="crispEdges"/><line x1="144.5" y1="46" x2="144.5" y2="66" stroke="#a8a8a8" shape-rendering="crispEdges"/><path d="M63 54 L68.5 54 L65.75 57 Z" fill="#4a5fc8"/><path d="M152 57 L157.5 57 L154.75 54 Z" fill="#4a5fc8"/><text x="140.5" y="60" font-size="12.5" fill="#000" text-anchor="end">1.00</text><text x="13" y="61" font-size="12.5" fill="#fff" textLength="26" lengthAdjust="spacingAndGlyphs">SELL</text><text x="181.5" y="61" font-size="12.5" fill="#fff" textLength="23" lengthAdjust="spacingAndGlyphs">BUY</text><text x="17" y="97" font-size="12.5" font-weight="bold" fill="#fff">28722</text><text x="55" y="97" font-size="17" font-weight="bold" fill="#fff">.</text><text x="63" y="97" font-size="33" fill="#fff" textLength="15" lengthAdjust="spacingAndGlyphs">5</text><text x="127" y="97" font-size="12.5" font-weight="bold" fill="#fff">28740</text><text x="166" y="97" font-size="17" font-weight="bold" fill="#fff">.</text><text x="174.5" y="97" font-size="33" fill="#fff" textLength="15" lengthAdjust="spacingAndGlyphs">5</text>
<g stroke="#000" stroke-width="1" fill="none" shape-rendering="crispEdges">
<path d="M0 25.5H1656.5V578.5H0"/>
<path d="M0 580.5H1656.5V750.5H0"/>
<path d="M0 752.5H1656.5V926.5H0"/>
</g>
<line x1="1657" y1="47.5" x2="1660" y2="47.5" stroke="#000" shape-rendering="crispEdges"/><text x="1662" y="51.2" font-size="10" letter-spacing="-0.5" fill="#000">31146.0</text><line x1="1657" y1="80.5" x2="1660" y2="80.5" stroke="#000" shape-rendering="crispEdges"/><text x="1662" y="84.2" font-size="10" letter-spacing="-0.5" fill="#000">30915.0</text><line x1="1657" y1="113.5" x2="1660" y2="113.5" stroke="#000" shape-rendering="crispEdges"/><text x="1662" y="117.2" font-size="10" letter-spacing="-0.5" fill="#000">30677.0</text><line x1="1657" y1="146.5" x2="1660" y2="146.5" stroke="#000" shape-rendering="crispEdges"/><text x="1662" y="150.2" font-size="10" letter-spacing="-0.5" fill="#000">30446.0</text><line x1="1657" y1="179.5" x2="1660" y2="179.5" stroke="#000" shape-rendering="crispEdges"/><text x="1662" y="183.2" font-size="10" letter-spacing="-0.5" fill="#000">30215.0</text><line x1="1657" y1="212.5" x2="1660" y2="212.5" stroke="#000" shape-rendering="crispEdges"/><text x="1662" y="216.2" font-size="10" letter-spacing="-0.5" fill="#000">29977.0</text><line x1="1657" y1="245.5" x2="1660" y2="245.5" stroke="#000" shape-rendering="crispEdges"/><text x="1662" y="249.2" font-size="10" letter-spacing="-0.5" fill="#000">29746.0</text><line x1="1657" y1="278.5" x2="1660" y2="278.5" stroke="#000" shape-rendering="crispEdges"/><text x="1662" y="282.2" font-size="10" letter-spacing="-0.5" fill="#000">29515.0</text><line x1="1657" y1="311.5" x2="1660" y2="311.5" stroke="#000" shape-rendering="crispEdges"/><text x="1662" y="315.2" font-size="10" letter-spacing="-0.5" fill="#000">29277.0</text><line x1="1657" y1="344.5" x2="1660" y2="344.5" stroke="#000" shape-rendering="crispEdges"/><text x="1662" y="348.2" font-size="10" letter-spacing="-0.5" fill="#000">29046.0</text><line x1="1657" y1="377.5" x2="1660" y2="377.5" stroke="#000" shape-rendering="crispEdges"/><text x="1662" y="381.2" font-size="10" letter-spacing="-0.5" fill="#000">28815.0</text><line x1="1657" y1="410.5" x2="1660" y2="410.5" stroke="#000" shape-rendering="crispEdges"/><text x="1662" y="414.2" font-size="10" letter-spacing="-0.5" fill="#000">28577.0</text><line x1="1657" y1="443.5" x2="1660" y2="443.5" stroke="#000" shape-rendering="crispEdges"/><text x="1662" y="447.2" font-size="10" letter-spacing="-0.5" fill="#000">28346.0</text><line x1="1657" y1="476.5" x2="1660" y2="476.5" stroke="#000" shape-rendering="crispEdges"/><text x="1662" y="480.2" font-size="10" letter-spacing="-0.5" fill="#000">28115.0</text><line x1="1657" y1="509.5" x2="1660" y2="509.5" stroke="#000" shape-rendering="crispEdges"/><text x="1662" y="513.2" font-size="10" letter-spacing="-0.5" fill="#000">27877.0</text><line x1="1657" y1="542.5" x2="1660" y2="542.5" stroke="#000" shape-rendering="crispEdges"/><text x="1662" y="546.2" font-size="10" letter-spacing="-0.5" fill="#000">27646.0</text><line x1="1657" y1="575.5" x2="1660" y2="575.5" stroke="#000" shape-rendering="crispEdges"/><text x="1662" y="579.2" font-size="10" letter-spacing="-0.5" fill="#000">27415.0</text><rect x="1658" y="339" width="41" height="11" fill="#ff0000" shape-rendering="crispEdges"/><text x="1662" y="348.2" font-size="10" letter-spacing="-0.5" fill="#fff">29039.4</text><rect x="1658" y="359" width="41" height="11" fill="#ff0000" shape-rendering="crispEdges"/><text x="1662" y="368.2" font-size="10" letter-spacing="-0.5" fill="#fff">28898.1</text><rect x="1658" y="384" width="41" height="11" fill="#000000" shape-rendering="crispEdges"/><text x="1662" y="393.2" font-size="10" letter-spacing="-0.5" fill="#fff">28724.0</text><rect x="1658" y="395" width="41" height="11" fill="#32cd32" shape-rendering="crispEdges"/><text x="1662" y="404.2" font-size="10" letter-spacing="-0.5" fill="#ffffff">28643.9</text><rect x="1658" y="410" width="41" height="11" fill="#0000ff" shape-rendering="crispEdges"/><text x="1662" y="419.2" font-size="10" letter-spacing="-0.5" fill="#fff">28538.0</text><rect x="1658" y="431" width="41" height="11" fill="#0000ff" shape-rendering="crispEdges"/><text x="1662" y="440.2" font-size="10" letter-spacing="-0.5" fill="#fff">28389.7</text><line x1="1657" y1="582.5" x2="1660" y2="582.5" stroke="#000" shape-rendering="crispEdges"/><text x="1661" y="590" font-size="9.6" fill="#000">511.02</text><line x1="1657" y1="680.5" x2="1660" y2="680.5" stroke="#000" shape-rendering="crispEdges"/><text x="1661" y="684" font-size="9.6" fill="#000">0.00</text><line x1="1657" y1="749.5" x2="1660" y2="749.5" stroke="#000" shape-rendering="crispEdges"/><text x="1661" y="747" font-size="9.6" fill="#000">-358.25</text><line x1="1657" y1="754.5" x2="1658.5" y2="754.5" stroke="#000" shape-rendering="crispEdges"/><text x="1660" y="763" font-size="9.6" fill="#000">100</text><line x1="1657" y1="788.5" x2="1658.5" y2="788.5" stroke="#000" shape-rendering="crispEdges"/><text x="1660" y="792" font-size="9.6" fill="#000">80</text><line x1="1657" y1="839.5" x2="1658.5" y2="839.5" stroke="#000" shape-rendering="crispEdges"/><text x="1660" y="843" font-size="9.6" fill="#000">50</text><line x1="1657" y1="900.5" x2="1658.5" y2="900.5" stroke="#000" shape-rendering="crispEdges"/><text x="1660" y="904" font-size="9.6" fill="#000">15</text><line x1="1657" y1="925.5" x2="1658.5" y2="925.5" stroke="#000" shape-rendering="crispEdges"/><text x="1660" y="922" font-size="9.6" fill="#000">0</text>
<g clip-path="url(#cmacd)">
<path d="M-1.5 662V681M6.5 661V681M14.5 659V681M22.5 650V681M30.5 643V681M38.5 635V681M46.5 621V681M54.5 610V681M62.5 600V681M70.5 592V681M78.5 591V681M86.5 594V681M94.5 600V681M102.5 602V681M110.5 602V681M118.5 612V681M126.5 611V681M134.5 613V681M142.5 626V681M150.5 641V681M158.5 644V681M166.5 651V681M174.5 668V681M182.5 680V686M190.5 680V696M198.5 680V703M206.5 680V711M214.5 680V719M222.5 680V716M230.5 680V711M238.5 680V718M246.5 680V719M254.5 680V722M262.5 680V726M270.5 680V733M278.5 680V739M286.5 680V737M294.5 680V737M302.5 680V736M310.5 680V734M318.5 680V724M326.5 680V716M334.5 680V710M342.5 680V714M350.5 680V714M358.5 680V714M366.5 680V711M374.5 680V709M382.5 680V707M390.5 680V705M398.5 680V696M406.5 680V690M414.5 680V692M422.5 680V693M430.5 680V694M438.5 680V696M446.5 680V703M454.5 680V708M462.5 680V720M470.5 680V730M478.5 680V738M486.5 680V743M494.5 680V742M502.5 680V739M510.5 680V734M518.5 680V731M526.5 680V722M534.5 680V716M542.5 680V713M550.5 680V712M558.5 680V706M566.5 680V698M574.5 680V694M582.5 680V693M590.5 680V686M598.5 679V681M606.5 678V681M614.5 680V681M622.5 680V683M630.5 680V686M638.5 680V684M646.5 680V684M654.5 680V682M662.5 677V681M670.5 679V681M678.5 677V681M686.5 676V681M694.5 672V681M702.5 665V681M710.5 663V681M718.5 661V681M726.5 659V681M734.5 665V681M742.5 672V681M750.5 674V681M758.5 675V681M766.5 673V681M774.5 670V681M782.5 668V681M790.5 667V681M798.5 669V681M806.5 670V681M814.5 672V681M822.5 672V681M830.5 670V681M838.5 668V681M846.5 673V681M854.5 680V681M862.5 680V691M870.5 680V699M878.5 680V703M886.5 680V703M894.5 680V705M902.5 680V707M910.5 680V707M918.5 680V705M926.5 680V699M934.5 680V699M942.5 680V699M950.5 680V698M958.5 680V707M966.5 680V714M974.5 680V721M982.5 680V721M990.5 680V722M998.5 680V729M1006.5 680V729M1014.5 680V727M1022.5 680V723M1030.5 680V719M1038.5 680V709M1046.5 680V701M1054.5 680V697M1062.5 680V694M1070.5 680V692M1078.5 680V689M1086.5 680V688M1094.5 680V685M1102.5 677V681M1110.5 669V681M1118.5 659V681M1126.5 651V681M1134.5 647V681M1142.5 643V681M1150.5 639V681M1158.5 639V681M1166.5 641V681M1174.5 642V681M1182.5 640V681M1190.5 637V681M1198.5 637V681M1206.5 638V681M1214.5 641V681M1222.5 646V681M1230.5 650V681M1238.5 655V681M1246.5 662V681M1254.5 666V681M1262.5 672V681M1270.5 675V681M1278.5 677V681M1286.5 679V681M1294.5 679V681M1302.5 680V681M1310.5 680V681M1318.5 680V681M1326.5 680V685M1334.5 680V688M1342.5 680V690M1350.5 680V691M1358.5 680V697M1366.5 680V697M1374.5 680V694M1382.5 680V694M1390.5 680V694M1398.5 680V695M1406.5 680V697M1414.5 680V698M1422.5 680V698M1430.5 680V692" stroke="#c0c0c0" stroke-width="1" shape-rendering="crispEdges"/>
<polyline points="0.5,666.0 11.1,665.5 22.5,663.0 30.5,659.8 38.4,655.9 47.2,650.1 55.1,645.4 62.2,639.5 71.0,629.9 78.9,621.9 86.9,616.6 95.7,608.7 102.7,605.2 109.8,601.7 118.6,599.9 129.2,599.9 137.1,602.0 143.3,606.6 150.3,610.5 157.4,614.9 166.2,621.4 175.0,629.0 179.4,634.3 190.9,647.5 196.2,654.5 206.7,668.6 215.6,681.0 222.6,688.0 229.7,695.1 236.7,702.1 246.4,709.2 254.3,712.4 263.1,716.2 271.1,719.8 279.0,723.3 289.6,724.7 295.8,726.8 302.8,730.3 311.7,731.7 327.5,731.7 336.3,728.9 343.4,727.7 350.4,725.0 357.5,722.4 368.1,718.0 375.1,715.3 385.7,711.8 392.7,710.1 399.8,708.3 413.9,704.8 420.9,702.1 431.5,699.0 440.3,697.7 456.2,696.8 463.3,699.0 472.1,703.0 480.9,709.2 487.9,714.8 495.0,718.0 505.5,725.9 516.1,731.2 524.9,733.0 535.5,732.4 547.9,729.1 560.2,722.4 572.5,715.3 582.3,709.2 589.3,705.3 601.7,698.3 614.0,691.9 626.3,687.1 638.7,684.9 651.0,683.6 661.6,681.3 679.2,681.0 695.1,679.6 703.9,676.6 714.5,673.9 726.8,669.5 732.1,667.8 746.2,667.8 749.7,666.9 770.9,666.9 783.2,668.1 788.5,669.0 809.7,670.0 830.8,670.0 836.1,669.0 848.4,669.5 855.5,670.8 860.8,673.0 869.6,675.7 879.3,681.0 888.1,685.9 895.2,688.0 902.2,691.2 911.0,697.7 919.9,700.4 926.9,702.7 965.7,703.5 976.3,706.0 990.4,709.2 1000.9,713.1 1011.5,717.1 1022.1,721.9 1032.7,722.9 1043.2,720.6 1052.1,718.9 1062.6,713.6 1075.0,707.4 1087.3,700.4 1099.7,694.2 1108.5,688.4 1117.3,684.5 1126.1,679.2 1134.9,673.0 1143.7,667.8 1152.5,660.7 1159.6,656.3 1165.8,652.8 1178.1,646.6 1190.5,641.3 1204.6,639.6 1215.1,638.7 1231.0,640.8 1239.8,643.1 1250.4,646.1 1261.0,651.0 1273.3,657.7 1287.4,665.1 1301.5,672.2 1312.1,675.7 1324.4,678.3 1338.5,681.9 1350.9,684.9 1365.0,688.0 1379.1,690.1 1393.2,692.4 1410.8,695.4 1431.1,696.0" fill="none" stroke="#ff0000" stroke-width="1" stroke-dasharray="3,2" shape-rendering="crispEdges"/>
<path d="M1318 687 L1424 701.5" stroke="#ff0000" stroke-width="3.4" fill="none" stroke-linecap="round"/>
<path d="M1426 701 L1447 693" stroke="#ff0000" stroke-width="3.4" fill="none" stroke-linecap="round"/>
<path d="M1421 694.5 L1431 700 L1421.5 705 Z" fill="#ff0000"/>
<path d="M1455 690.5 L1440.5 691.5 L1446 700.5 Z" fill="#ff0000"/>
</g>
<text x="2" y="593" font-size="9.6" letter-spacing="-0.08" fill="#000">MACD(12,26,9) -54.75 -74.58</text>
<g clip-path="url(#crsi)">
<line x1="-1" y1="788.5" x2="1656" y2="788.5" stroke="#c0c0c0" stroke-dasharray="3,3" shape-rendering="crispEdges"/>
<line x1="-1" y1="839.5" x2="1656" y2="839.5" stroke="#c0c0c0" stroke-dasharray="3,3" shape-rendering="crispEdges"/>
<line x1="-1" y1="900.5" x2="1656" y2="900.5" stroke="#c0c0c0" stroke-dasharray="3,3" shape-rendering="crispEdges"/>
<polyline points="-1.5,835.0 6.5,830.9 14.5,829.7 22.5,818.1 30.5,816.8 38.5,814.5 46.5,803.1 54.5,803.1 62.5,800.6 70.5,798.9 78.5,813.0 86.5,819.5 94.5,826.9 102.5,819.8 110.5,816.8 118.5,836.8 126.5,823.0 134.5,826.2 142.5,841.2 150.5,849.8 158.5,835.9 166.5,842.0 174.5,854.4 182.5,858.6 190.5,854.7 198.5,852.1 206.5,855.6 214.5,857.9 222.5,844.5 230.5,839.8 238.5,853.9 246.5,850.9 254.5,852.1 262.5,853.3 270.5,858.3 278.5,861.8 286.5,850.9 294.5,853.0 302.5,852.1 310.5,852.1 318.5,836.8 326.5,838.9 334.5,838.9 342.5,853.0 350.5,848.0 358.5,849.1 366.5,844.5 374.5,845.9 382.5,844.5 390.5,843.8 398.5,830.1 406.5,833.6 414.5,846.8 422.5,845.9 430.5,846.8 438.5,848.6 446.5,859.7 454.5,859.7 462.5,872.0 470.5,872.9 478.5,872.9 486.5,874.1 494.5,860.0 502.5,855.1 510.5,849.8 518.5,850.9 526.5,838.9 534.5,843.8 542.5,846.8 550.5,850.9 558.5,838.5 566.5,831.8 574.5,837.1 582.5,842.8 590.5,829.2 598.5,825.7 606.5,836.8 614.5,840.6 622.5,849.5 630.5,847.7 638.5,838.0 646.5,843.8 654.5,833.6 662.5,830.9 670.5,842.8 678.5,835.7 686.5,835.7 694.5,830.1 702.5,823.0 710.5,830.9 718.5,829.2 726.5,829.2 734.5,845.9 742.5,849.1 750.5,842.4 758.5,840.6 766.5,831.8 774.5,830.1 782.5,829.2 790.5,834.5 798.5,836.8 806.5,838.0 814.5,841.5 822.5,840.3 830.5,829.2 838.5,828.3 846.5,849.1 854.5,853.9 862.5,866.7 870.5,866.2 878.5,859.7 886.5,849.8 894.5,850.9 902.5,854.7 910.5,853.9 918.5,842.4 926.5,838.0 934.5,844.2 942.5,849.5 950.5,845.9 958.5,868.0 966.5,868.0 974.5,869.7 982.5,856.1 990.5,862.7 998.5,868.8 1006.5,856.1 1014.5,853.0 1022.5,849.5 1030.5,844.2 1038.5,831.8 1046.5,831.8 1054.5,838.9 1062.5,838.9 1070.5,839.8 1078.5,836.8 1086.5,840.6 1094.5,836.8 1102.5,821.2 1110.5,816.8 1118.5,812.4 1126.5,809.8 1134.5,808.9 1142.5,817.7 1150.5,812.4 1158.5,823.0 1166.5,828.7 1174.5,826.2 1182.5,821.2 1190.5,813.3 1198.5,821.6 1206.5,824.8 1214.5,828.3 1222.5,837.5 1230.5,835.7 1238.5,840.6 1246.5,848.6 1254.5,843.3 1262.5,848.6 1270.5,844.5 1278.5,844.5 1286.5,843.8 1294.5,839.8 1302.5,848.6 1310.5,838.9 1318.5,838.0 1326.5,852.1 1334.5,853.9 1342.5,853.9 1350.5,859.7 1358.5,854.4 1366.5,853.9 1374.5,839.8 1382.5,835.0 1390.5,853.0 1398.5,850.9 1406.5,853.0 1414.5,860.9 1422.5,838.0 1430.5,833.9" fill="none" stroke="#1e90ff" stroke-width="1" shape-rendering="crispEdges"/>
<path d="M1322 855.5 L1374 855.5 M1374 854.5 L1422 854.5" stroke="#ff0000" stroke-width="3" fill="none"/>
<path d="M1423 856 L1433 834" stroke="#ff0000" stroke-width="3.2" fill="none" stroke-linecap="round"/>
<path d="M1435.5 829 L1427 837.5 L1436 842 Z" fill="#ff0000"/>
<path d="M1417.5 850 L1429 854.5 L1417 861 L1420 855 Z" fill="#ff0000"/>
</g>
<text x="2" y="765" font-size="9.6" letter-spacing="-0.15" fill="#000">RSI(14) 53.7199</text>
<text x="-3" y="939" font-size="10" letter-spacing="-0.35" fill="#000">8 Feb 2021</text><line x1="62.5" y1="927" x2="62.5" y2="930" stroke="#000" shape-rendering="crispEdges"/><text x="62" y="939" font-size="10" letter-spacing="-0.4" fill="#000">17 Feb 01:15</text><line x1="126.5" y1="927" x2="126.5" y2="930" stroke="#000" shape-rendering="crispEdges"/><text x="126" y="939" font-size="10" letter-spacing="-0.4" fill="#000">23 Feb 01:15</text><line x1="190.5" y1="927" x2="190.5" y2="930" stroke="#000" shape-rendering="crispEdges"/><text x="190" y="939" font-size="10" letter-spacing="-0.4" fill="#000">1 Mar 01:15</text><line x1="254.5" y1="927" x2="254.5" y2="930" stroke="#000" shape-rendering="crispEdges"/><text x="254" y="939" font-size="10" letter-spacing="-0.4" fill="#000">5 Mar 01:15</text><line x1="318.5" y1="927" x2="318.5" y2="930" stroke="#000" shape-rendering="crispEdges"/><text x="318" y="939" font-size="10" letter-spacing="-0.4" fill="#000">11 Mar 01:15</text><line x1="382.5" y1="927" x2="382.5" y2="930" stroke="#000" shape-rendering="crispEdges"/><text x="382" y="939" font-size="10" letter-spacing="-0.4" fill="#000">17 Mar 01:15</text><line x1="446.5" y1="927" x2="446.5" y2="930" stroke="#000" shape-rendering="crispEdges"/><text x="446" y="939" font-size="10" letter-spacing="-0.4" fill="#000">23 Mar 01:15</text><line x1="510.5" y1="927" x2="510.5" y2="930" stroke="#000" shape-rendering="crispEdges"/><text x="510" y="939" font-size="10" letter-spacing="-0.4" fill="#000">29 Mar 01:15</text><line x1="574.5" y1="927" x2="574.5" y2="930" stroke="#000" shape-rendering="crispEdges"/><text x="574" y="939" font-size="10" letter-spacing="-0.4" fill="#000">7 Apr 01:15</text><line x1="638.5" y1="927" x2="638.5" y2="930" stroke="#000" shape-rendering="crispEdges"/><text x="638" y="939" font-size="10" letter-spacing="-0.4" fill="#000">13 Apr 01:15</text><line x1="702.5" y1="927" x2="702.5" y2="930" stroke="#000" shape-rendering="crispEdges"/><text x="702" y="939" font-size="10" letter-spacing="-0.4" fill="#000">19 Apr 01:15</text><line x1="766.5" y1="927" x2="766.5" y2="930" stroke="#000" shape-rendering="crispEdges"/><text x="766" y="939" font-size="10" letter-spacing="-0.4" fill="#000">23 Apr 01:15</text><line x1="830.5" y1="927" x2="830.5" y2="930" stroke="#000" shape-rendering="crispEdges"/><text x="830" y="939" font-size="10" letter-spacing="-0.4" fill="#000">29 Apr 01:15</text><line x1="894.5" y1="927" x2="894.5" y2="930" stroke="#000" shape-rendering="crispEdges"/><text x="894" y="939" font-size="10" letter-spacing="-0.4" fill="#000">5 May 01:15</text><line x1="958.5" y1="927" x2="958.5" y2="930" stroke="#000" shape-rendering="crispEdges"/><text x="958" y="939" font-size="10" letter-spacing="-0.4" fill="#000">11 May 01:15</text><line x1="1022.5" y1="927" x2="1022.5" y2="930" stroke="#000" shape-rendering="crispEdges"/><text x="1022" y="939" font-size="10" letter-spacing="-0.4" fill="#000">17 May 01:15</text><line x1="1086.5" y1="927" x2="1086.5" y2="930" stroke="#000" shape-rendering="crispEdges"/><text x="1086" y="939" font-size="10" letter-spacing="-0.4" fill="#000">24 May 01:15</text><line x1="1150.5" y1="927" x2="1150.5" y2="930" stroke="#000" shape-rendering="crispEdges"/><text x="1150" y="939" font-size="10" letter-spacing="-0.4" fill="#000">28 May 01:15</text><line x1="1214.5" y1="927" x2="1214.5" y2="930" stroke="#000" shape-rendering="crispEdges"/><text x="1214" y="939" font-size="10" letter-spacing="-0.4" fill="#000">3 Jun 01:15</text><line x1="1278.5" y1="927" x2="1278.5" y2="930" stroke="#000" shape-rendering="crispEdges"/><text x="1278" y="939" font-size="10" letter-spacing="-0.4" fill="#000">9 Jun 01:15</text><line x1="1342.5" y1="927" x2="1342.5" y2="930" stroke="#000" shape-rendering="crispEdges"/><text x="1342" y="939" font-size="10" letter-spacing="-0.4" fill="#000">16 Jun 01:15</text><line x1="1406.5" y1="927" x2="1406.5" y2="930" stroke="#000" shape-rendering="crispEdges"/><text x="1406" y="939" font-size="10" letter-spacing="-0.4" fill="#000">22 Jun 01:15</text>
<rect x="1701" y="23" width="1" height="919" fill="#f4f4f4"/>
<rect x="1702" y="23" width="1" height="919" fill="#e0e0e0"/>
<rect x="0" y="0" width="1703" height="21" fill="#f0f0f0"/><rect x="0" y="20" width="1703" height="1" fill="#f6f6f6"/><rect x="0" y="21" width="1703" height="1" fill="#a0a0a0"/><rect x="0" y="22" width="1703" height="1" fill="#6a6a6a"/><path d="M-2 1.5 H4 V8" fill="#fff" stroke="#8090a0" stroke-width="0.8"/><circle cx="2" cy="9" r="4.2" fill="#e8f4ff" stroke="#6a9fd8" stroke-width="1.3"/><path d="M5 12.5 L8.5 16.5" stroke="#c8a020" stroke-width="2.5"/><rect x="17" y="1" width="1" height="19" fill="#a0a0a0"/><rect x="18" y="1" width="1" height="19" fill="#fff"/><path d="M28.5 2.5 H36 L39.5 6 V15.5 H28.5 Z" fill="#fff" stroke="#606060"/><path d="M30 6.5H34M30 9.5H37M30 12H35" stroke="#909090"/><path d="M37 7.5 V19 M31.5 13 H43" stroke="#009000" stroke-width="4.6"/><path d="M37 8.5 V18 M32.5 13 H42" stroke="#1ee81e" stroke-width="2.6"/><text x="46" y="13" font-size="12" fill="#000" font-family="&quot;Noto Sans CJK SC&quot;, sans-serif">新订单</text><path d="M94.5 10.5 L101 2.5 L110 8.5 L103.5 16.5 Z" fill="#f0c838" stroke="#a07010" stroke-width="0.9"/><path d="M96 9.5 L101.5 3.8 L108.5 8.5" stroke="#fff3a0" fill="none" stroke-width="0.8"/><path d="M94.8 11.5 L103.5 17.5 L110 10" stroke="#c08818" fill="none" stroke-width="1.2"/><path d="M125 2.5 L128 1 H134.5 V10 H125 Z" fill="#3a9af0" stroke="#1a68c0" stroke-width="0.8"/><path d="M128.5 5.5 H133 M128.5 7.5 H133" stroke="#d8ecff" stroke-width="0.8"/><path d="M125.5 2.8 V10" stroke="#9fd0ff" stroke-width="1"/><path d="M122.5 15 Q122 10 126 11 Q128 7 132 9 Q137 9 137 13 Q139 16 135 17 H125 Q122 17 122.5 15 Z" fill="#fafafa" stroke="#7080a0"/><path d="M153 3 A7.5 7.5 0 0 0 153 15" stroke="#7aa0e0" stroke-width="1.1" fill="none"/><path d="M163 3 A7.5 7.5 0 0 1 163 15" stroke="#88c088" stroke-width="1.1" fill="none"/><path d="M155 5 A4.5 4.5 0 0 0 155 13" stroke="#4a78d8" stroke-width="1.1" fill="none"/><path d="M161 5 A4.5 4.5 0 0 1 161 13" stroke="#5aa85a" stroke-width="1.1" fill="none"/><circle cx="158" cy="8.5" r="2" fill="#2050c0"/><path d="M158 10 V16" stroke="#30a030" stroke-width="1.6" fill="none"/><ellipse cx="185" cy="5.5" rx="8" ry="3.5" fill="#58a8e0" stroke="#3070b0" stroke-width="0.8"/><path d="M178 8 L192 8 L186 16 Z" fill="#f0d040" stroke="#b09020" stroke-width="0.8"/><circle cx="190" cy="13" r="4" fill="#e02020"/><rect x="188.3" y="11.3" width="3.4" height="3.4" fill="#fff"/><text x="199" y="13" font-size="12" fill="#000" font-family="&quot;Noto Sans CJK SC&quot;, sans-serif">自动交易</text><rect x="253" y="1" width="1" height="19" fill="#a0a0a0"/><rect x="254" y="1" width="1" height="19" fill="#fff"/><rect x="257" y="2" width="3" height="1" fill="#b0b0b0"/><rect x="257" y="4" width="3" height="1" fill="#b0b0b0"/><rect x="257" y="6" width="3" height="1" fill="#b0b0b0"/><rect x="257" y="8" width="3" height="1" fill="#b0b0b0"/><rect x="257" y="10" width="3" height="1" fill="#b0b0b0"/><rect x="257" y="12" width="3" height="1" fill="#b0b0b0"/><rect x="257" y="14" width="3" height="1" fill="#b0b0b0"/><rect x="257" y="16" width="3" height="1" fill="#b0b0b0"/><rect x="257" y="18" width="3" height="1" fill="#b0b0b0"/><path d="M271.5 4 V17 M268 14.5 H283" stroke="#505050" fill="none" shape-rendering="crispEdges"/><path d="M271.5 2 L269.5 5 L273.5 5 Z" fill="#505050"/><path d="M283 12.5 L285 14.5 L283 16.5 Z" fill="#505050"/><path d="M277.5 5 V12 M277.5 5.5 H280 M275 11.5 H277.5" stroke="#109010" fill="none" shape-rendering="crispEdges"/><rect x="290" y="0" width="27" height="20" fill="#f8f8f8"/><path d="M299.5 4 V17 M296 14.5 H311" stroke="#505050" fill="none" shape-rendering="crispEdges"/><path d="M299.5 2 L297.5 5 L301.5 5 Z" fill="#505050"/><path d="M311 12.5 L313 14.5 L311 16.5 Z" fill="#505050"/><rect x="303.5" y="3.5" width="3" height="8" fill="#22cc22" stroke="#107010"/><path d="M305 1V3.5M305 11.5V13" stroke="#107010"/><path d="M327.5 4 V17 M324 14.5 H339" stroke="#505050" fill="none" shape-rendering="crispEdges"/><path d="M327.5 2 L325.5 5 L329.5 5 Z" fill="#505050"/><path d="M339 12.5 L341 14.5 L339 16.5 Z" fill="#505050"/><path d="M327.5 11 Q332 5 336 6 L340 9.5" stroke="#10a030" fill="none"/><rect x="348" y="1" width="1" height="19" fill="#a0a0a0"/><rect x="349" y="1" width="1" height="19" fill="#fff"/><circle cx="363" cy="7" r="5.5" fill="#d8ecff" stroke="#2a70c8" stroke-width="1.4"/><path d="M367 11 L372 16.5" stroke="#c89a20" stroke-width="3"/><path d="M360 7 H366" stroke="#3a78c8" stroke-width="2"/><path d="M363 4 V10" stroke="#3a78c8" stroke-width="2"/><circle cx="391" cy="7" r="5.5" fill="#d8ecff" stroke="#2a70c8" stroke-width="1.4"/><path d="M395 11 L400 16.5" stroke="#c89a20" stroke-width="3"/><path d="M388 7 H394" stroke="#3a78c8" stroke-width="2"/><rect x="413" y="1" width="7" height="7.5" fill="#2aa030"/><rect x="421" y="1" width="7.5" height="7.5" fill="#2050c0"/><rect x="413" y="9.5" width="7" height="7.5" fill="#2050c0"/><rect x="421" y="9.5" width="7.5" height="7.5" fill="#2aa030"/><path d="M414.5 5.5H419M422.5 5.5H427M414.5 14H419M422.5 14H427" stroke="#fff" stroke-width="1.4"/><rect x="440" y="1" width="1" height="19" fill="#a0a0a0"/><rect x="441" y="1" width="1" height="19" fill="#fff"/><rect x="444" y="0" width="24" height="20" fill="#f6f6f6"/><path d="M451.5 4 V17 M448 14.5 H463" stroke="#505050" fill="none" shape-rendering="crispEdges"/><path d="M451.5 2 L449.5 5 L453.5 5 Z" fill="#505050"/><path d="M463 12.5 L465 14.5 L463 16.5 Z" fill="#505050"/><path d="M456 6 L460 9.5 L456 12.5 Z" fill="#20c020" stroke="#109010" stroke-width="0.6"/><rect x="471" y="1" width="1" height="19" fill="#a0a0a0"/><rect x="472" y="1" width="1" height="19" fill="#fff"/><rect x="473" y="0" width="24" height="20" fill="#f6f6f6"/><path d="M479.5 4 V17 M476 14.5 H491" stroke="#505050" fill="none" shape-rendering="crispEdges"/><path d="M479.5 2 L477.5 5 L481.5 5 Z" fill="#505050"/><path d="M491 12.5 L493 14.5 L491 16.5 Z" fill="#505050"/><path d="M485.5 3 V14" stroke="#2060c0"/><path d="M493 8.5 H487 M487 8.5 L490 6 M487 8.5 L490 11" stroke="#d04010" stroke-width="1.5"/><rect x="500" y="1" width="1" height="19" fill="#a0a0a0"/><rect x="501" y="1" width="1" height="19" fill="#fff"/><path d="M511.5 1.5 H518 L521.5 5 V14.5 H511.5 Z" fill="#fff" stroke="#606060"/><path d="M514 5V12M513 8H516" stroke="#606060"/><path d="M520 9 V20 M514.5 14.5 H525.5" stroke="#008800" stroke-width="4.4"/><path d="M520 9.5 V19.5 M515 14.5 H525" stroke="#22ee22" stroke-width="2.2"/><path d="M533 8 L538 8 L535.5 11 Z" fill="#000"/><circle cx="556" cy="8.5" r="7.5" fill="#1e6fd0"/><circle cx="556" cy="8.5" r="5.3" fill="#fff"/><path d="M556 5 V9 H559" stroke="#000" fill="none"/><path d="M571 8 L576 8 L573.5 11 Z" fill="#000"/><rect x="587.5" y="2.5" width="15" height="13" fill="#fff" stroke="#2a60b0"/><rect x="588" y="3" width="14" height="2" fill="#4a80d0"/><path d="M589 10 L592 8 L595 9 L598 7 L601 8" stroke="#c02020" fill="none"/><path d="M588 10.5H602" stroke="#2a60b0"/><path d="M589 14 L592 12 L595 13.5 L598 11.5 L601 13" stroke="#209020" fill="none"/><path d="M610 8 L615 8 L612.5 11 Z" fill="#000"/><rect x="621" y="1" width="1" height="19" fill="#a0a0a0"/><rect x="622" y="1" width="1" height="19" fill="#fff"/><rect x="624" y="2" width="3" height="1" fill="#b0b0b0"/><rect x="624" y="4" width="3" height="1" fill="#b0b0b0"/><rect x="624" y="6" width="3" height="1" fill="#b0b0b0"/><rect x="624" y="8" width="3" height="1" fill="#b0b0b0"/><rect x="624" y="10" width="3" height="1" fill="#b0b0b0"/><rect x="624" y="12" width="3" height="1" fill="#b0b0b0"/><rect x="624" y="14" width="3" height="1" fill="#b0b0b0"/><rect x="624" y="16" width="3" height="1" fill="#b0b0b0"/><rect x="624" y="18" width="3" height="1" fill="#b0b0b0"/><rect x="631" y="0" width="24" height="20" fill="#f8f8f8"/><path d="M638.5 3 L638.5 15 L641.5 12 L644 17 L646 16 L643.5 11 L647.5 11 Z" fill="#404040"/><path d="M671.5 3V16M664 9.5H679" stroke="#505050"/><rect x="688" y="1" width="1" height="19" fill="#a0a0a0"/><rect x="689" y="1" width="1" height="19" fill="#fff"/><path d="M705.5 4V16" stroke="#505050"/><path d="M728 9.5H741" stroke="#505050"/><path d="M756 16L768 4" stroke="#505050" stroke-width="1.2"/><path d="M783 14L795 3M785 16L797 5M786 8H796M784 12H794" stroke="#505050" stroke-width="1"/><text x="792" y="18" font-size="6" font-weight="bold" fill="#505050">E</text><path d="M810 3.5H823M810 6.5H823M810 9.5H823M810 12.5H823" stroke="#808080" stroke-dasharray="1,1"/><text x="820" y="18" font-size="6" font-weight="bold" fill="#505050">F</text><text x="840.5" y="14" font-size="12" font-weight="bold" fill="#505050">A</text><rect x="866.5" y="2.5" width="13" height="12" fill="none" stroke="#707070" stroke-dasharray="1,1"/><text x="868.5" y="13" font-size="11" font-weight="bold" fill="#505050">T</text><path d="M897 4 L901 2 L901 6 Z M903 11 L907 13 L903 15 Z" fill="#404040"/><path d="M898 6 L906 12" stroke="#404040" stroke-width="1.5"/><path d="M916 8 L921 8 L918.5 11 Z" fill="#000"/><rect x="926" y="1" width="1" height="19" fill="#a0a0a0"/><rect x="927" y="1" width="1" height="19" fill="#fff"/><rect x="930" y="2" width="3" height="1" fill="#b0b0b0"/><rect x="930" y="4" width="3" height="1" fill="#b0b0b0"/><rect x="930" y="6" width="3" height="1" fill="#b0b0b0"/><rect x="930" y="8" width="3" height="1" fill="#b0b0b0"/><rect x="930" y="10" width="3" height="1" fill="#b0b0b0"/><rect x="930" y="12" width="3" height="1" fill="#b0b0b0"/><rect x="930" y="14" width="3" height="1" fill="#b0b0b0"/><rect x="930" y="16" width="3" height="1" fill="#b0b0b0"/><rect x="930" y="18" width="3" height="1" fill="#b0b0b0"/><rect x="1077" y="0" width="26" height="20" fill="#f8f8f8"/><rect x="1077" y="0" width="1" height="20" fill="#a0a0a0"/><text x="942" y="14" font-size="10.5" fill="#3a3a3a">M1</text><text x="970" y="14" font-size="10.5" fill="#3a3a3a">M5</text><text x="997" y="14" font-size="10.5" fill="#3a3a3a">M15</text><text x="1024" y="14" font-size="10.5" fill="#3a3a3a">M30</text><text x="1055" y="14" font-size="10.5" fill="#3a3a3a">H1</text><text x="1082" y="14" font-size="10.5" fill="#3a3a3a">H4</text><text x="1111" y="14" font-size="10.5" fill="#3a3a3a">D1</text><text x="1139" y="14" font-size="10.5" fill="#3a3a3a">W1</text><text x="1165" y="14" font-size="10.5" fill="#3a3a3a">MN</text><rect x="1188" y="1" width="1" height="19" fill="#a0a0a0"/><rect x="1189" y="1" width="1" height="19" fill="#fff"/><circle cx="1658.5" cy="6.5" r="3.8" fill="#f4f4ff" stroke="#2050d0" stroke-width="1.5"/><path d="M1656 9 L1652 13.5" stroke="#2050d0" stroke-width="2.4" stroke-linecap="round"/><path d="M1676 12 Q1676 7 1682 7 Q1688 7 1688 12 Q1688 16 1682 16 L1679 18 L1679.5 15.5 Q1676 14.5 1676 12 Z" fill="#e8e8f0" stroke="#a0a0a0" stroke-width="0.8"/><circle cx="1689.5" cy="7" r="7.5" fill="#e02a10"/><text x="1689.5" y="11.5" font-size="12" font-weight="bold" fill="#fff" text-anchor="middle" font-family="&quot;Liberation Serif&quot;, serif">1</text>
</svg></body></html>
